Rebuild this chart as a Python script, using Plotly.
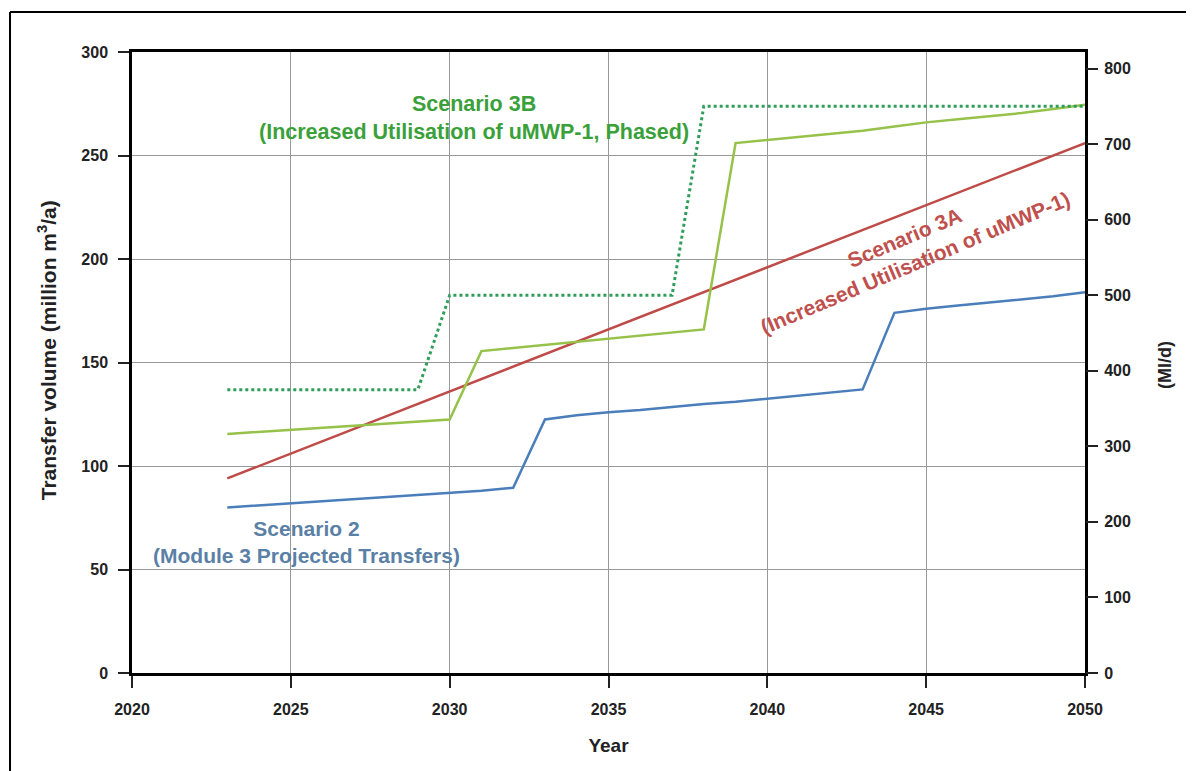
import plotly.graph_objects as go

years = list(range(2023, 2051))

scenario2 = [80, 81, 82, 83, 84, 85, 86, 87, 88, 89.5,
             122.5, 124.5, 126, 127, 128.5, 130, 131, 132.5, 134, 135.5,
             137, 174, 176, 177.5, 179, 180.5, 182, 184]

scenario3a = [94, 100, 106, 112, 118, 124, 130, 136, 142, 148,
              154, 160, 166, 172, 178, 184, 190, 196, 202, 208,
              214, 220, 226, 232, 238, 244, 250, 256]

scenario3b = [115.5, 116.5, 117.5, 118.5, 119.5, 120.5, 121.5, 122.5, 155.5, 157,
              158.5, 160, 161.5, 163, 164.5, 166, 256, 257.5, 259, 260.5,
              262, 264, 266, 267.5, 269, 270.5, 272.5, 274.5]

# Phased capacity (Ml/d), right axis
capacity_mld = [375, 375, 375, 375, 375, 375, 375, 500, 500, 500,
                500, 500, 500, 500, 500, 750, 750, 750, 750, 750,
                750, 750, 750, 750, 750, 750, 750, 750]

x_ticks = [2020, 2025, 2030, 2035, 2040, 2045, 2050]
y_ticks = [0, 50, 100, 150, 200, 250, 300]
y2_ticks = [0, 100, 200, 300, 400, 500, 600, 700, 800]

BLUE = "#4a7ebb"
RED = "#be4b48"
GREEN = "#96c24a"
DGREEN = "#2e9e5a"
FONT = "Liberation Sans"

fig = go.Figure()
fig.add_trace(go.Scatter(x=years, y=scenario2, mode="lines",
                         line=dict(color=BLUE, width=2.5), name="Scenario 2"))
fig.add_trace(go.Scatter(x=years, y=scenario3a, mode="lines",
                         line=dict(color=RED, width=2.5), name="Scenario 3A"))
fig.add_trace(go.Scatter(x=years, y=scenario3b, mode="lines",
                         line=dict(color=GREEN, width=2.5), name="Scenario 3B"))
fig.add_trace(go.Scatter(x=years, y=capacity_mld, mode="lines", yaxis="y2",
                         line=dict(color=DGREEN, width=3, dash="dot"),
                         name="Capacity"))

tickfont = dict(family=FONT, size=16, color="#222222", weight="bold")

fig.update_layout(
    width=1186, height=763,
    margin=dict(l=124, r=109, t=44, b=98),
    paper_bgcolor="white", plot_bgcolor="white",
    showlegend=False,
    xaxis=dict(range=[2020, 2050], tickvals=x_ticks, showgrid=True,
               gridcolor="#999999", gridwidth=1, zeroline=False,
               showline=True, linecolor="black", linewidth=2.5, mirror=True,
               ticks="outside", ticklen=12, tickwidth=1.5, tickcolor="#222",
               tickfont=tickfont, automargin=False, ticklabelstandoff=8,
               title=dict(text="Year", standoff=22,
                          font=dict(family=FONT, size=19, color="#222", weight="bold"))),
    yaxis=dict(range=[0, 300], tickvals=y_ticks, showgrid=True,
               gridcolor="#999999", gridwidth=1, zeroline=False,
               showline=True, linecolor="black", linewidth=2.5, mirror=True,
               ticks="outside", ticklen=11, tickwidth=1.5, tickcolor="#222",
               tickfont=tickfont, automargin=False, ticklabelstandoff=7),
    yaxis2=dict(range=[0, 300 * 1e6 / 365 / 1000], tickvals=y2_ticks,
                overlaying="y", side="right", showgrid=False, zeroline=False,
                showline=False, ticks="outside", ticklen=12, tickwidth=1.5,
                tickcolor="#222", tickfont=tickfont, automargin=False,
                ticklabelstandoff=3),
)

fig.add_annotation(x=-0.089, y=0.52, xref="paper", yref="paper",
                   xanchor="center", yanchor="middle",
                   text="Transfer volume (million m<sup>3</sup>/a)",
                   textangle=-90, showarrow=False,
                   font=dict(family=FONT, size=21, color="#222", weight="bold"))
fig.add_annotation(x=1.084, y=0.496, xref="paper", yref="paper",
                   xanchor="center", yanchor="middle", text="(Ml/d)",
                   textangle=-90, showarrow=False,
                   font=dict(family=FONT, size=18, color="#222", weight="bold"))

fig.add_annotation(x=2030.76, y=268.1, xref="x", yref="y",
                   text="Scenario 3B<br>(Increased Utilisation of uMWP-1, Phased)",
                   showarrow=False, align="center",
                   font=dict(family=FONT, size=21.5, color="#3aa13a", weight="bold"))
fig.add_annotation(x=2025.48, y=63.3, xref="x", yref="y",
                   text="Scenario 2<br>(Module 3 Projected Transfers)",
                   showarrow=False, align="center",
                   font=dict(family=FONT, size=21, color="#5b80a6", weight="bold"))
fig.add_annotation(x=2044.49, y=204.3, xref="x", yref="y",
                   text="Scenario 3A<br>(Increased Utilisation of uMWP-1)",
                   showarrow=False, align="center", textangle=-23,
                   font=dict(family=FONT, size=21, color="#c0504d", weight="bold"))

# outer frame (left and top edges visible)
fig.add_shape(type="line", xref="paper", yref="paper",
              x0=-0.128, x1=-0.128, y0=1.0644, y1=-0.2,
              line=dict(color="black", width=2))
fig.add_shape(type="line", xref="paper", yref="paper",
              x0=-0.128, x1=1.2, y0=1.0644, y1=1.0644,
              line=dict(color="black", width=2))

fig.write_html("out.html")
